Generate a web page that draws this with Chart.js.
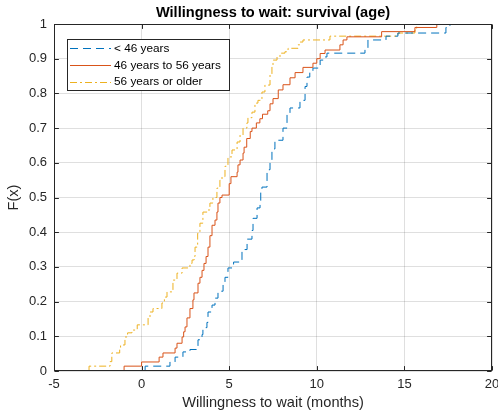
<!DOCTYPE html>
<html>
<head>
<meta charset="utf-8">
<script src="https://cdn.jsdelivr.net/npm/chart.js@4.4.0/dist/chart.umd.min.js"></script>
<style>
    html, body { margin: 0; padding: 0; background: #fff; }
    #wrap { width: 498px; height: 415px; }
</style>
</head>
<body>
<div id="wrap"><canvas id="ecdfChart" width="498" height="415"></canvas></div>
<script>
const youngX = [0.2, 0.2, 1.62, 1.91, 2.36, 2.76, 3.16, 3.22, 3.45, 3.5, 3.73, 3.79, 4.02, 4.19, 4.36, 4.65, 4.76, 4.93, 5.25, 5.73, 6.02, 6.3, 6.36, 6.59, 6.76, 6.8, 6.87, 7.16, 7.33, 7.44, 7.61, 8.07, 8.3, 8.47, 9.04, 9.33, 9.44, 9.6, 9.78, 10.19, 10.47, 10.58, 12.75, 12.92, 13.95, 14.63, 17.37, 17.6];
const youngF = [0, 0.014, 0.026, 0.04, 0.055, 0.062, 0.07, 0.09, 0.105, 0.125, 0.14, 0.17, 0.19, 0.21, 0.23, 0.248, 0.27, 0.297, 0.314, 0.35, 0.38, 0.405, 0.44, 0.47, 0.49, 0.52, 0.53, 0.58, 0.6, 0.64, 0.665, 0.7, 0.74, 0.758, 0.78, 0.82, 0.847, 0.86, 0.873, 0.896, 0.905, 0.916, 0.93, 0.954, 0.965, 0.974, 0.99, 1];

const midX = [-1.0, -1.0, 0.0, 1.0, 1.22, 1.91, 2.02, 2.31, 2.4, 2.48, 2.59, 2.76, 2.93, 2.99, 3.22, 3.33, 3.45, 3.56, 3.68, 3.79, 3.9, 4.02, 4.19, 4.3, 4.36, 4.47, 4.59, 5.0, 5.1, 5.45, 5.5, 5.62, 5.79, 5.85, 6.0, 6.2, 6.3, 6.55, 6.75, 6.9, 7.2, 7.33, 7.5, 7.8, 8.07, 8.47, 8.76, 9.21, 9.78, 10.0, 10.19, 10.47, 11.32, 11.5, 11.72, 13.7, 15.6, 16.85];
const midF = [0, 0.014, 0.026, 0.04, 0.052, 0.066, 0.08, 0.098, 0.113, 0.127, 0.153, 0.18, 0.205, 0.225, 0.253, 0.27, 0.29, 0.31, 0.33, 0.357, 0.39, 0.42, 0.435, 0.458, 0.484, 0.5, 0.507, 0.54, 0.56, 0.573, 0.594, 0.608, 0.628, 0.645, 0.67, 0.69, 0.7, 0.715, 0.727, 0.74, 0.75, 0.77, 0.785, 0.81, 0.825, 0.845, 0.86, 0.875, 0.887, 0.9, 0.915, 0.925, 0.94, 0.954, 0.963, 0.978, 0.99, 1];

const oldX = [-3.0, -3.0, -1.8, -1.7, -1.25, -1.2, -0.95, -0.8, -0.55, -0.25, 0.37, 0.48, 0.65, 1.16, 1.3, 1.45, 1.79, 2.02, 2.31, 2.76, 2.88, 3.0, 3.05, 3.2, 3.33, 3.5, 3.79, 3.9, 4.07, 4.3, 4.47, 4.59, 4.76, 4.93, 5.16, 5.45, 5.62, 5.79, 6.01, 6.07, 6.3, 6.47, 6.64, 6.87, 7.04, 7.33, 7.44, 7.5, 7.73, 7.9, 8.18, 8.36, 8.93, 9.04, 9.21, 10.75, 14.63, 15.6, 15.7];
const oldF = [0, 0.014, 0.027, 0.052, 0.066, 0.075, 0.098, 0.11, 0.118, 0.133, 0.153, 0.17, 0.18, 0.196, 0.213, 0.228, 0.262, 0.282, 0.297, 0.31, 0.32, 0.33, 0.357, 0.397, 0.426, 0.458, 0.464, 0.484, 0.5, 0.527, 0.55, 0.56, 0.59, 0.617, 0.637, 0.66, 0.68, 0.7, 0.715, 0.73, 0.746, 0.772, 0.78, 0.804, 0.824, 0.853, 0.876, 0.896, 0.905, 0.916, 0.92, 0.93, 0.94, 0.948, 0.954, 0.965, 0.974, 0.987, 1];

const seriesLabels = ['< 46 years', '46 years to 56 years', '56 years or older'];
const xRange = [-5, 20];
const yRange = [0, 1];

const FONT = '"Liberation Sans", Arial, Helvetica, sans-serif';
const AXIS_COLOR = '#262626';

function toPoints(xs, fs) {
    return xs.map((x, i) => ({ x: x, y: fs[i] }));
}

// Box, inward ticks on all four sides, title and legend (MATLAB look)
const matlabAxes = {
    id: 'matlabAxes',
    afterDatasetsDraw(chart) {
        const ctx = chart.ctx;
        const area = chart.chartArea;
        const xs = chart.scales.x;
        const ys = chart.scales.y;
        const L = Math.round(area.left) + 0.5;
        const R = Math.round(area.right) - 0.5;
        const T = Math.round(area.top) + 0.5;
        const B = Math.round(area.bottom) - 0.5;
        const tick = 4.4;

        ctx.save();
        ctx.strokeStyle = AXIS_COLOR;
        ctx.lineWidth = 1;
        ctx.setLineDash([]);
        ctx.strokeRect(L, T, R - L, B - T);

        ctx.beginPath();
        xs.ticks.forEach(t => {
            const px = Math.round(xs.getPixelForValue(t.value)) + 0.5;
            ctx.moveTo(px, B); ctx.lineTo(px, B - tick);
            ctx.moveTo(px, T); ctx.lineTo(px, T + tick);
        });
        ys.ticks.forEach(t => {
            const py = Math.round(ys.getPixelForValue(t.value)) + 0.5;
            ctx.moveTo(L, py); ctx.lineTo(L + tick, py);
            ctx.moveTo(R, py); ctx.lineTo(R - tick, py);
        });
        ctx.stroke();

        // title
        ctx.fillStyle = '#000';
        ctx.font = 'bold 14.6px ' + FONT;
        ctx.textAlign = 'center';
        ctx.textBaseline = 'middle';
        ctx.fillText('Willingness to wait: survival (age)', (area.left + area.right) / 2, 13);

        // legend
        const box = { x: 67.5, y: 39.5, w: 162, h: 51 };
        ctx.fillStyle = '#fff';
        ctx.fillRect(box.x, box.y, box.w, box.h);
        ctx.strokeStyle = AXIS_COLOR;
        ctx.strokeRect(box.x, box.y, box.w, box.h);
        ctx.font = '11.8px ' + FONT;
        ctx.textAlign = 'left';
        ctx.fillStyle = '#000';
        chart.data.datasets.forEach((ds, i) => {
            const rowY = 48 + i * 16.8;
            ctx.strokeStyle = ds.borderColor;
            ctx.lineWidth = 1;
            ctx.setLineDash(ds.borderDash || []);
            ctx.beginPath();
            ctx.moveTo(70, Math.round(rowY) + 0.5);
            ctx.lineTo(111, Math.round(rowY) + 0.5);
            ctx.stroke();
            ctx.setLineDash([]);
            ctx.fillText(ds.label, 114, rowY + 0.5);
        });
        ctx.restore();
    }
};

const ctx = document.getElementById('ecdfChart').getContext('2d');

new Chart(ctx, {
    type: 'line',
    data: {
        datasets: [{
            label: seriesLabels[0],
            data: toPoints(youngX, youngF),
            borderColor: '#0072BD',
            borderDash: [8, 5],
            borderWidth: 1,
            stepped: 'before',
            pointRadius: 0,
            fill: false
        }, {
            label: seriesLabels[1],
            data: toPoints(midX, midF),
            borderColor: '#D95319',
            borderWidth: 1,
            stepped: 'before',
            pointRadius: 0,
            fill: false
        }, {
            label: seriesLabels[2],
            data: toPoints(oldX, oldF),
            borderColor: '#EDB120',
            borderDash: [7, 3, 2, 3],
            borderWidth: 1,
            stepped: 'before',
            pointRadius: 0,
            fill: false
        }]
    },
    options: {
        responsive: false,
        animation: false,
        devicePixelRatio: 1,
        layout: { padding: { left: 0, right: 6, top: 24, bottom: 0 } },
        scales: {
            x: {
                type: 'linear',
                min: xRange[0],
                max: xRange[1],
                afterFit: s => {
                    s.height = 44;
                    // let the "20" label run off the canvas edge like the original
                    s.paddingLeft = 0;
                    s.paddingRight = 0;
                },
                grid: { color: 'rgba(38,38,38,0.15)', drawTicks: false },
                border: { display: false },
                ticks: {
                    stepSize: 5,
                    padding: 6,
                    color: AXIS_COLOR,
                    font: { family: FONT, size: 13 }
                },
                title: {
                    display: true,
                    text: 'Willingness to wait (months)',
                    color: AXIS_COLOR,
                    font: { family: FONT, size: 14.6 },
                    padding: { top: 0, bottom: 3 }
                }
            },
            y: {
                type: 'linear',
                min: yRange[0],
                max: yRange[1],
                afterFit: s => { s.width = 54; },
                grid: { color: 'rgba(38,38,38,0.15)', drawTicks: false },
                border: { display: false },
                ticks: {
                    stepSize: 0.1,
                    padding: 7,
                    color: AXIS_COLOR,
                    font: { family: FONT, size: 13 },
                    callback: v => String(Math.round(v * 10) / 10)
                },
                title: {
                    display: true,
                    text: 'F(x)',
                    color: AXIS_COLOR,
                    font: { family: FONT, size: 14.6 },
                    padding: { top: 5, bottom: 0 }
                }
            }
        },
        plugins: {
            legend: { display: false },
            tooltip: { enabled: false }
        }
    },
    plugins: [matlabAxes]
});
</script>
</body>
</html>
